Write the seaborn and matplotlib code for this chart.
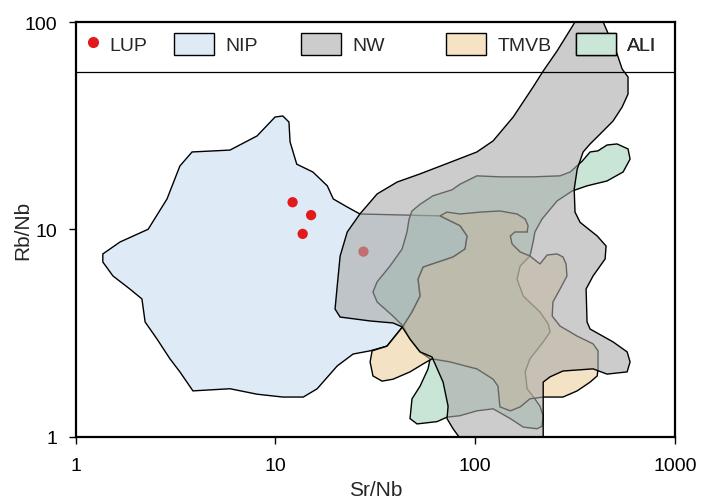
import pandas as pd
import matplotlib.pyplot as plt
import seaborn as sns
from matplotlib.patches import Patch
from matplotlib.lines import Line2D
from matplotlib.colors import to_rgba
from matplotlib.ticker import NullLocator

# Field outlines (Sr/Nb, Rb/Nb)
nip_sr = [1.37, 1.67, 2.31, 2.87, 3.33, 3.83, 5.93, 8.10, 9.97, 10.9, 11.7, 11.85, 12.8, 15.4,
          18.2, 19.5, 22.9, 26.5, 66.7, 84.0, 91.1, 89.0, 77.5, 54.9, 51.8, 53.0, 48.3, 43.6,
          36.2, 29.8, 24.5, 20.4, 16.2, 13.8, 10.9, 8.10, 5.93, 3.87, 3.33, 2.97, 2.56, 2.23,
          2.15, 1.87, 1.54, 1.37]
nip_rb = [7.60, 8.68, 10.0, 14.0, 20.2, 23.6, 24.1, 28.2, 34.8, 35.2, 32.9, 26.4, 20.6, 18.9,
          16.2, 14.0, 12.8, 11.85, 11.6, 10.4, 9.28, 8.03, 7.35, 6.57, 5.75, 4.76, 3.99, 3.41,
          2.73, 2.59, 2.50, 2.19, 1.70, 1.55, 1.55, 1.60, 1.70, 1.66, 2.05, 2.37, 2.95, 3.57,
          4.61, 5.15, 5.95, 6.95]

nw_sr = [90.1, 82.1, 77.5, 72.3, 73.2, 69.1, 60.8, 53.0, 47.2, 43.1, 38.8, 29.8, 21.1, 19.9,
         20.4, 21.1, 22.9, 26.5, 32.3, 40.7, 53.0, 77.5, 102, 123, 155, 195, 219, 257, 316,
         331, 442, 437, 457, 513, 544, 582, 582, 544, 490, 422, 376, 347, 324, 313, 316, 335,
         408, 452, 447, 389, 359, 363, 376, 490, 576, 596, 576, 457, 389, 275, 237, 219, 219]
nw_rb = [0.92, 1.01, 1.09, 1.22, 1.40, 1.83, 2.42, 2.56, 2.95, 3.38, 3.53, 3.61, 3.77, 4.12,
         5.32, 7.43, 9.70, 11.85, 14.8, 16.9, 18.5, 21.3, 23.6, 26.7, 34.8, 48.6, 58.0, 72.5,
         100, 109, 109, 100, 90.5, 70.1, 59.3, 54.3, 44.9, 38.9, 33.3, 28.8, 25.8, 23.6, 19.5,
         15.6, 12.1, 10.8, 9.28, 8.30, 7.19, 5.95, 5.15, 3.57, 3.30, 2.86, 2.56, 2.29, 2.05,
         2.00, 2.12, 2.07, 1.94, 1.83, 0.92]

tmvb_sr = [66.7, 84.0, 91.1, 89.0, 77.5, 54.9, 51.8, 53.0, 48.3, 43.6, 36.2, 30.5, 29.8, 30.8,
           34.2, 38.8, 47.2, 54.9, 60.8, 74.9, 94.3, 102, 123, 130, 133, 150, 168, 188, 219,
           275, 324, 376, 408, 412, 412, 389, 324, 266, 243, 245, 266, 288, 285, 275, 257, 229,
           211, 199, 188, 168, 153, 150, 158, 182, 184, 178, 162, 133, 106, 84.0, 72.3]
tmvb_rb = [11.6, 10.4, 9.28, 8.03, 7.35, 6.57, 5.75, 4.76, 3.99, 3.41, 2.73, 2.59, 2.29, 1.96,
           1.85, 1.89, 2.05, 2.24, 2.37, 2.29, 2.16, 2.12, 1.89, 1.75, 1.39, 1.33, 1.39, 1.52,
           1.55, 1.55, 1.66, 1.83, 1.96, 2.12, 2.59, 2.80, 3.05, 3.41, 3.81, 4.46, 5.15, 5.95,
           6.80, 7.35, 7.60, 7.51, 6.80, 7.11, 7.43, 7.77, 8.49, 9.28, 9.70, 9.70, 10.4, 11.2,
           11.85, 12.25, 12.1, 11.85, 12.1]

ali_sr = [84.0, 102, 133, 195, 266, 299, 343, 376, 412, 457, 513, 582, 596, 550, 457, 363,
          306, 257, 216, 199, 195, 188, 168, 162, 174, 211, 232, 237, 219, 188, 178, 182, 199,
          211, 219, 216, 204, 174, 150, 123, 102, 84.0, 72.3, 64.5, 51.2, 47.2, 48.3, 53.0,
          58.1, 59.5, 53.0, 47.2, 43.6, 38.8, 32.3, 30.8, 32.3, 37.5, 43.1, 45.6, 46.7, 48.3,
          53.0, 61.5, 76.6]
ali_rb = [16.5, 18.1, 17.9, 17.9, 18.1, 18.9, 21.3, 23.6, 23.9, 25.5, 25.8, 24.4, 21.8, 18.9,
          17.1, 16.2, 15.3, 13.7, 11.2, 9.70, 8.68, 7.43, 6.65, 5.75, 4.76, 3.99, 3.49, 3.19,
          2.86, 2.37, 2.05, 1.70, 1.52, 1.40, 1.26, 1.12, 1.09, 1.11, 1.22, 1.36, 1.33, 1.26,
          1.24, 1.18, 1.15, 1.22, 1.52, 1.75, 2.12, 2.37, 2.56, 2.95, 3.41, 3.81, 4.46, 4.98,
          5.57, 6.65, 8.03, 9.70, 11.2, 12.25, 13.2, 14.5, 15.5]

# LUP samples
lup_sr = [12.2, 15.1, 13.7, 27.6]
lup_rb = [13.5, 11.7, 9.5, 7.8]

tick_values = [1, 10, 100, 1000]
tick_labels = ["1", "10", "100", "1000"]

sns.set_style("ticks")
plt.rcParams["font.family"] = ["Liberation Sans", "DejaVu Sans"]

fig = plt.figure(figsize=(7.06, 5.02), dpi=100)
ax = fig.add_axes([75.5 / 706, 64.5 / 502, 599.5 / 706, 414.5 / 502])
ax.set_xscale("log")
ax.set_yscale("log")

# fields: NIP at the bottom, NW semi-transparent on top
ax.fill(nip_sr, nip_rb, facecolor="#deebf7", edgecolor="black", linewidth=1.0, zorder=1)
ax.fill(ali_sr, ali_rb, facecolor=to_rgba("#94ccae", 0.5), edgecolor="black", linewidth=1.0, zorder=2)
ax.fill(tmvb_sr, tmvb_rb, facecolor=to_rgba("#ebc78a", 0.5), edgecolor="black", linewidth=1.0, zorder=3)

lup = pd.DataFrame({"Sr/Nb": lup_sr, "Rb/Nb": lup_rb})
sns.scatterplot(data=lup, x="Sr/Nb", y="Rb/Nb", color="#e31a1c", s=55, edgecolor="none",
                legend=False, ax=ax, zorder=4)

ax.fill(nw_sr, nw_rb, facecolor=to_rgba("#aaaaaa", 0.6), edgecolor="black", linewidth=1.0, zorder=5)

ax.axhline(57.4, color="black", linewidth=0.9, zorder=6)

ax.set_xlim(1, 1000)
ax.set_ylim(1, 100)
ax.set_xticks(tick_values, labels=tick_labels)
ax.set_yticks(tick_values[:3], labels=tick_labels[:3])
ax.xaxis.set_minor_locator(NullLocator())
ax.yaxis.set_minor_locator(NullLocator())
ax.tick_params(direction="out", length=5, width=1, labelsize=14, colors="black")
ax.tick_params(axis="x", pad=10)
ax.tick_params(axis="y", pad=8)
for s in ax.spines.values():
    s.set_linewidth(1.6)
    s.set_color("black")
    s.set_zorder(7)

ax.set_xlabel("Sr/Nb", fontsize=15)
ax.set_ylabel("Rb/Nb", fontsize=15)
ax.xaxis.set_label_coords(0.5, -0.105)
ax.yaxis.set_label_coords(-0.072, 0.5)

# legend strip along the top of the plot
entries = [
    (Line2D([], [], marker="o", linestyle="none", color="#e31a1c", markersize=7), "LUP", 0.0125, 1.0, 0.34),
    (Patch(facecolor="#deebf7", edgecolor="black", linewidth=1.0), "NIP", 0.1643, 2.06, 0.57),
    (Patch(facecolor="#cccccc", edgecolor="black", linewidth=1.0), "NW", 0.3761, 2.06, 0.57),
    (Patch(facecolor="#f5e3c4", edgecolor="black", linewidth=1.0), "TMVB", 0.618, 2.06, 0.57),
    (Patch(facecolor="#c9e6d6", edgecolor="black", linewidth=1.0), "ALI", 0.8349, 2.06, 0.57),
]
for handle, label, x0, hl, tp in entries:
    leg = ax.legend([handle], [label], loc="center left", bbox_to_anchor=(x0, 0.947),
                    frameon=False, fontsize=14, handlelength=hl, handleheight=1.29,
                    handletextpad=tp, borderpad=0, borderaxespad=0)
    leg.set_zorder(8)
    ax.add_artist(leg)

fig.savefig("out.png", dpi=100)
